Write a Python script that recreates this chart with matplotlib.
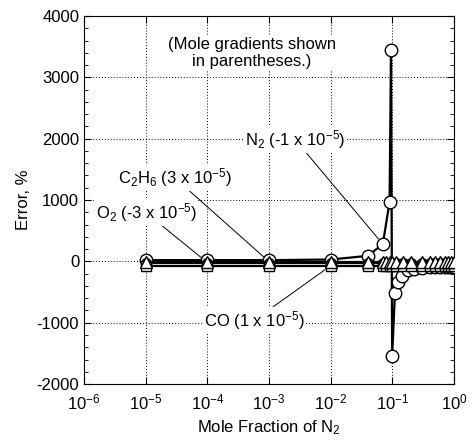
import matplotlib
matplotlib.use("Agg")
import matplotlib.pyplot as plt
from matplotlib.ticker import MultipleLocator, LogLocator, NullLocator

plt.rcParams["font.family"] = ["Liberation Sans", "DejaVu Sans"]
plt.rcParams["mathtext.fontset"] = "custom"
plt.rcParams["mathtext.rm"] = "Liberation Sans"
plt.rcParams["mathtext.it"] = "Liberation Sans"
plt.rcParams["mathtext.bf"] = "Liberation Sans:bold"
plt.rcParams["axes.unicode_minus"] = False

# N2 error (%) vs mole fraction of N2
x_n2 = [1e-5, 1e-4, 1e-3, 1e-2, 0.04, 0.07, 0.09, 0.095, 0.099, 0.11, 0.125,
        0.145, 0.18, 0.22, 0.3, 0.4, 0.5, 0.6, 0.7, 0.8, 0.9, 1.0]
err_n2 = [20, 20, 20, 30, 90, 280, 970, 3450, -1550, -520, -340,
          -240, -140, -120, -110, -100, -100, -100, -100, -100, -100, -100]

# other species share the same mole fractions
x_oth = [1e-5, 1e-4, 1e-3, 1e-2, 0.04, 0.07, 0.08, 0.09, 0.1, 0.115, 0.15,
         0.2, 0.3, 0.4, 0.5, 0.6, 0.7, 0.8, 0.9, 1.0]
err_c2h6 = [-5, -5, -5, -5, -5, -5, -5, -5, -5, -5, -5,
            -5, -5, -5, -5, -5, -5, -5, -5, -5]
err_o2 = [-20, -20, -20, -20, -20, -20, -20, -20, -20, -20, -20,
          -20, -20, -20, -20, -20, -20, -20, -20, -20]
err_co = [-70, -70, -70, -70, -70, -70, -70, -70, -70, -70, -70,
          -70, -70, -70, -70, -70, -70, -70, -70, -70]

fig = plt.figure(figsize=(4.72, 4.45), dpi=100)
ax = fig.add_axes([0.178, 0.137, 0.784, 0.827])

mk = dict(color="k", lw=1.6, mfc="w", mec="k", mew=1.0)
ax.plot(x_n2, err_n2, marker="o", ms=9, zorder=3, **mk)
ax.plot(x_oth, err_o2, marker="o", ms=7, zorder=3.1, **mk)
ax.plot(x_oth, err_co, marker="s", ms=7, zorder=3.2, **mk)
ax.plot(x_oth, err_c2h6, marker="^", ms=8, zorder=3.3, **mk)

ax.set_xscale("log")
ax.set_xlim(1e-6, 1.0)
ax.set_ylim(-2000, 4000)
ax.xaxis.set_major_locator(LogLocator(base=10, numticks=10))
ax.xaxis.set_minor_locator(NullLocator())
ax.yaxis.set_major_locator(MultipleLocator(1000))
ax.yaxis.set_minor_locator(MultipleLocator(200))
ax.tick_params(which="both", direction="in", top=True, right=True,
               labelsize=12)
ax.tick_params(axis="x", pad=6)
ax.tick_params(which="major", length=5, width=0.8)
ax.tick_params(which="minor", length=3, width=0.6)
ax.grid(True, which="major", linestyle=(0, (1, 2)), color="k", lw=0.7)
for s in ax.spines.values():
    s.set_linewidth(0.8)

ax.set_xlabel("Mole Fraction of N$_2$", fontsize=12, labelpad=4)
ax.set_ylabel("Error, %", fontsize=12, labelpad=4)

box = dict(facecolor="w", edgecolor="none", pad=1)
ax.text(5.3e-4, 3396, "(Mole gradients shown\nin parentheses.)", ha="center",
        va="center", fontsize=12, bbox=box, linespacing=1.1, zorder=4)

ap = dict(arrowstyle="-", color="k", lw=0.7, shrinkA=0, shrinkB=5)
ax.annotate("N$_2$ (-1 x 10$^{-5}$)", xy=(0.07, 280), xytext=(0.0175, 1980),
            ha="right", va="center", fontsize=12, bbox=box, arrowprops=ap,
            zorder=4)
ax.annotate("C$_2$H$_6$ (3 x 10$^{-5}$)", xy=(1e-3, -5), xytext=(2.5e-4, 1360),
            ha="right", va="center", fontsize=12, bbox=box, arrowprops=ap,
            zorder=4)
ax.annotate("O$_2$ (-3 x 10$^{-5}$)", xy=(1e-4, -20), xytext=(6.8e-5, 790),
            ha="right", va="center", fontsize=12, bbox=box, arrowprops=ap,
            zorder=4)
ax.annotate("CO (1 x 10$^{-5}$)", xy=(1e-2, -70), xytext=(3.8e-3, -960),
            ha="right", va="center", fontsize=12, bbox=box, arrowprops=ap,
            zorder=4)

fig.savefig("out.png", dpi=100, facecolor="w")
